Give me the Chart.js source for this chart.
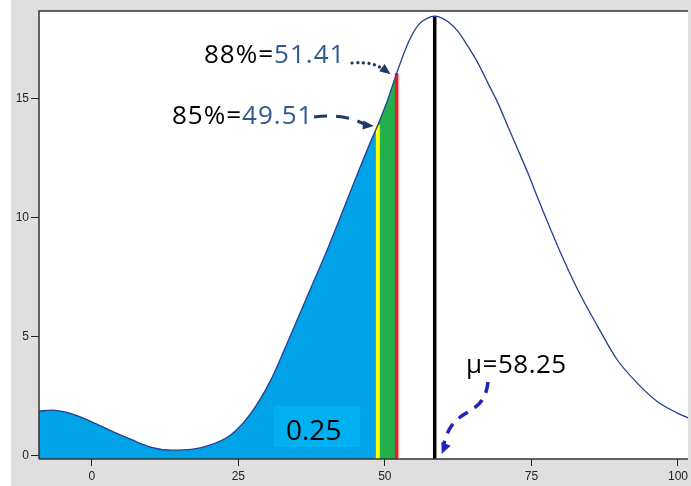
<!DOCTYPE html>
<html><head><meta charset="utf-8">
<script src="https://cdn.jsdelivr.net/npm/chart.js@4/dist/chart.umd.min.js"></script>
<style>html,body{margin:0;padding:0;background:#fff}canvas{display:block}</style>
</head><body>
<canvas id="c" width="691" height="486"></canvas>
<script>
// ---- data ----
const curveX = [-9, -6.9, -3.4, 0, 3.4, 6.8, 10.2, 13.6, 17.0, 20.4, 23.8, 27.0, 30.4, 33.6, 37.0, 40.4, 43.8, 47.2, 48.8, 50.5, 52.0, 54.0, 55.7, 57.9, 58.5, 59.1, 60.8, 62.5, 64.2, 65.9, 67.6, 69.3, 71.0, 72.7, 74.4, 76.1, 79.5, 82.9, 86.3, 89.6, 93.0, 96.4, 99.8, 101.7];
const curveY = [1.86, 1.90, 1.75, 1.41, 1.02, 0.66, 0.34, 0.22, 0.25, 0.45, 0.88, 1.72, 3.1, 4.87, 6.82, 8.78, 10.88, 12.97, 13.88, 14.95, 16.05, 17.35, 18.08, 18.43, 18.45, 18.43, 18.22, 17.8, 17.17, 16.47, 15.63, 14.79, 13.81, 12.84, 11.86, 10.8, 8.78, 6.96, 5.42, 4.03, 3.05, 2.28, 1.79, 1.58];
const xTicks = [0, 25, 50, 75, 100];
const yTicks = [0, 5, 10, 15];
const xRange = [-9, 101.7];
const yRange = [-0.15, 18.67];
// vertical markers: 85% (yellow), 88% (red), mean (black)
const markerX = [48.8, 52.0, 58.5];
const markerTop = [13.88, 16.05, 18.45];
const markerPct = ['85%=', '88%=', 'μ='];
const markerVal = ['49.51', '51.41', '58.25'];
const areaLabel = '0.25';

const pts = curveX.map((x, i) => ({x, y: curveY[i]}));
const bluePts = pts.filter(p => p.x <= markerX[0]);
const greenPts = pts.filter(p => p.x >= markerX[0] && p.x <= markerX[1]);
const vline = (i) => [{x: markerX[i], y: yRange[0]}, {x: markerX[i], y: markerTop[i]}];

const bgPlugin = {
  id: 'bg',
  beforeDraw(chart) {
    const ctx = chart.ctx, a = chart.chartArea;
    ctx.save();
    ctx.fillStyle = '#ffffff'; ctx.fillRect(0, 0, chart.width, chart.height);
    ctx.fillStyle = '#dfdfdf'; ctx.fillRect(11, 0, chart.width - 11, chart.height);
    ctx.fillStyle = '#ffffff'; ctx.fillRect(a.left, a.top, a.right - a.left, a.bottom - a.top);
    ctx.restore();
  }
};

function arrowHead(ctx, x, y, ang, len, wid, color) {
  ctx.save();
  ctx.translate(x, y); ctx.rotate(ang);
  ctx.fillStyle = color;
  ctx.beginPath(); ctx.moveTo(0, 0); ctx.lineTo(-len, -wid / 2); ctx.lineTo(-len, wid / 2); ctx.closePath(); ctx.fill();
  ctx.restore();
}

const annotPlugin = {
  id: 'annot',
  afterDraw(chart) {
    const ctx = chart.ctx, a = chart.chartArea;
    const xs = chart.scales.x, ys = chart.scales.y;
    ctx.save();
    // plot frame
    ctx.strokeStyle = '#333'; ctx.lineWidth = 1.5;
    ctx.beginPath(); ctx.moveTo(a.left, a.bottom); ctx.lineTo(a.left, a.top); ctx.lineTo(a.right, a.top); ctx.stroke();
    ctx.beginPath(); ctx.moveTo(a.left, a.bottom); ctx.lineTo(a.right, a.bottom); ctx.stroke();

    // faint edge right of the red marker
    const rx = xs.getPixelForValue(markerX[1]);
    ctx.fillStyle = 'rgba(240,150,160,0.7)';
    ctx.fillRect(rx + 1.8, ys.getPixelForValue(markerTop[1]), 1, a.bottom - ys.getPixelForValue(markerTop[1]));

    // area label box
    ctx.fillStyle = '#00b0f0';
    ctx.fillRect(274, 406, 86, 41);
    ctx.fillStyle = '#000';
    ctx.font = '28px "Open Sans"';
    ctx.textBaseline = 'alphabetic';
    ctx.fillText(areaLabel, 286, 440);

    const valColor = '#2e5a8e';
    ctx.font = '26px "Open Sans"';
    ctx.letterSpacing = '1px';
    function label(pct, val, x, y) {
      ctx.fillStyle = '#000'; ctx.fillText(pct, x, y);
      const w = ctx.measureText(pct).width;
      ctx.fillStyle = valColor; ctx.fillText(val, x + w, y);
      return x + w + ctx.measureText(val).width;
    }
    label(markerPct[1], markerVal[1], 204, 63);
    label(markerPct[0], markerVal[0], 172, 124);
    ctx.letterSpacing = '0.5px';
    ctx.fillStyle = '#000'; ctx.fillText(markerPct[2] + markerVal[2], 466, 373);
    ctx.letterSpacing = '0px';

    const navy = '#1f3864';
    // 88% dotted arrow
    const t88x = xs.getPixelForValue(markerX[1]) - 6, t88y = ys.getPixelForValue(markerTop[1]) + 1;
    ctx.strokeStyle = navy; ctx.lineWidth = 3.2; ctx.lineCap = 'round';
    ctx.setLineDash([0.1, 5.5]);
    ctx.beginPath(); ctx.moveTo(352, 63); ctx.quadraticCurveTo(376, 61, t88x - 6, t88y - 3); ctx.stroke();
    ctx.setLineDash([]);
    arrowHead(ctx, t88x, t88y, Math.atan2(t88y - 61 - 2, t88x - 376) , 11, 9, navy);

    // 85% dashed arrow
    const t85x = xs.getPixelForValue(markerX[0]) - 4, t85y = ys.getPixelForValue(markerTop[0]) + 1;
    ctx.lineCap = 'butt'; ctx.lineWidth = 3;
    ctx.setLineDash([13, 9]);
    ctx.beginPath(); ctx.moveTo(314, 117); ctx.quadraticCurveTo(345, 113, t85x - 8, t85y - 1); ctx.stroke();
    ctx.setLineDash([]);
    arrowHead(ctx, t85x, t85y, Math.atan2(t85y - 120, t85x - 350) * 0.4, 11, 9, navy);

    // mu dashed arrow
    const blue = '#2323b8';
    const tmx = xs.getPixelForValue(markerX[2]) + 7, tmy = a.bottom - 5;
    ctx.strokeStyle = blue; ctx.lineWidth = 3.5;
    ctx.setLineDash([11, 8]);
    ctx.beginPath(); ctx.moveTo(488, 382); ctx.bezierCurveTo(484, 420, 452, 404, tmx + 2, tmy - 9); ctx.stroke();
    ctx.setLineDash([]);
    arrowHead(ctx, tmx, tmy, Math.atan2(tmy - 404, tmx - 452) + 0.2, 11, 10, blue);
    ctx.restore();
  }
};

new Chart(document.getElementById('c'), {
  type: 'line',
  data: {
    datasets: [
      {data: pts, borderColor: '#23408e', borderWidth: 1.3, pointRadius: 0, fill: false, cubicInterpolationMode: 'monotone', order: 0},
      {data: vline(2), borderColor: '#000', borderWidth: 3.5, pointRadius: 0, fill: false, order: 1},
      {data: vline(1), borderColor: '#ed1c24', borderWidth: 3.5, pointRadius: 0, fill: false, order: 2},
      {data: vline(0), borderColor: '#ffff00', borderWidth: 4, pointRadius: 0, fill: false, order: 3},
      {data: greenPts, borderWidth: 0, borderColor: 'rgba(0,0,0,0)', backgroundColor: '#22b14c', pointRadius: 0, fill: 'start', cubicInterpolationMode: 'monotone', order: 4},
      {data: bluePts, borderWidth: 0, borderColor: 'rgba(0,0,0,0)', backgroundColor: '#00a2e8', pointRadius: 0, fill: 'start', cubicInterpolationMode: 'monotone', order: 5}
    ]
  },
  options: {
    responsive: false,
    animation: false,
    layout: {padding: {top: 11, right: 0, left: 0, bottom: 0}},
    plugins: {legend: {display: false}, tooltip: {enabled: false}},
    scales: {
      x: {
        type: 'linear', min: xRange[0], max: xRange[1],
        afterBuildTicks: s => { s.ticks = xTicks.map(v => ({value: v})); },
        afterFit: s => { s.height = 27; },
        grid: {drawOnChartArea: false, drawTicks: true, tickLength: 7, color: '#222', lineWidth: 1},
        border: {display: false},
        ticks: {font: {family: '"Liberation Sans"', size: 12}, color: '#222', padding: 3, maxRotation: 0, autoSkip: false}
      },
      y: {
        min: yRange[0], max: yRange[1],
        afterBuildTicks: s => { s.ticks = yTicks.map(v => ({value: v})); },
        afterFit: s => { s.width = 39; },
        grid: {drawOnChartArea: false, drawTicks: true, tickLength: 8, color: '#222', lineWidth: 1},
        border: {display: false},
        ticks: {font: {family: '"Liberation Sans"', size: 12}, color: '#222', padding: 2}
      }
    }
  },
  plugins: [bgPlugin, annotPlugin]
});
</script>
</body></html>
